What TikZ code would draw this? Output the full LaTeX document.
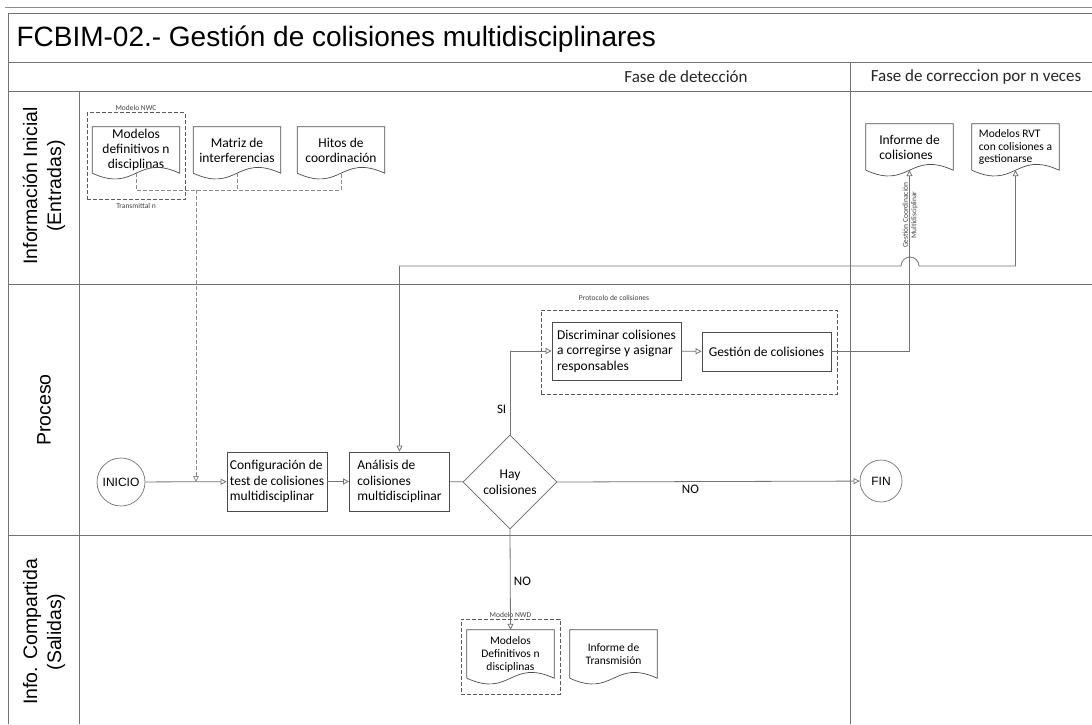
\documentclass[tikz,border=0pt]{standalone}
\usepackage{fontspec}
\setmainfont{Carlito}
\newfontfamily\arialf{Liberation Sans}
\usetikzlibrary{shapes.geometric,arrows.meta,calc}

\tikzset{
  lane/.style={draw=black!55, line width=0.8pt},
  procbox/.style={draw=black!70, line width=0.7pt, minimum width=100pt, minimum height=59pt,
    align=left, inner sep=2pt, font=\fontsize{13.5}{15.5}\selectfont},
  decision/.style={diamond, draw=black!60, line width=0.7pt, minimum width=94pt,
    minimum height=94pt, inner sep=0pt, align=center, font=\fontsize{13.5}{15.5}\selectfont},
  evento/.style={circle, draw=black!55, line width=0.7pt, inner sep=0pt,
    font=\arialf\fontsize{12}{14}\selectfont},
  docnode/.style={minimum width=87pt, minimum height=46pt, inner sep=1pt, align=center,
    font=\fontsize{13.5}{15}\selectfont},
  docline/.style={draw=black!70, line width=0.7pt},
  grupo/.style={draw=black!65, line width=0.7pt, dash pattern=on 4pt off 2pt,
    minimum width=10pt, minimum height=10pt},
  tiny/.style={font=\fontsize{7.5}{8.5}\selectfont, text=black!75, inner sep=1pt},
  conector/.style={draw=black!55, line width=0.8pt},
  flow/.style={conector, -{Triangle[open,length=6pt,width=6pt]}},
  feed/.style={draw=black!45, line width=0.8pt, dash pattern=on 4pt off 2pt},
  lanelabel/.style={rotate=90, align=center, font=\arialf\fontsize{19.5}{24}\selectfont},
  fase/.style={font=\fontsize{17}{19}\selectfont, text=black!85},
}

% documento con borde ondulado abajo
\newcommand\docshape[1]{%
  \draw[docline] (#1.south west) -- (#1.north west) -- (#1.north east) -- (#1.south east)
    .. controls ($(#1.south)+(0,-20)$) and ($(#1.south)+(0,20)$) .. (#1.south west);}

\begin{document}
\begin{tikzpicture}[x=1pt, y=-1pt]
  \useasboundingbox (0,0) rectangle (1092,724);

  % marco y carriles
  \draw[draw=black!45, line width=1pt] (5,7) -- (1092,7);
  \draw[lane] (1092,13) -- (8,13) -- (8,724);
  \draw[lane] (8,62) -- (1092,62);
  \draw[lane] (8,91) -- (1092,91);
  \draw[lane] (8,284) -- (1092,284);
  \draw[lane] (8,535) -- (1092,535);
  \draw[lane] (79,91) -- (79,724);
  \draw[lane] (850,62) -- (850,724);

  \node[anchor=west, font=\arialf\fontsize{28}{31}\selectfont] (titulo) at (13,39)
    {FCBIM-02.- Gestión de colisiones multidisciplinares};
  \node[fase] (deteccion) at (686,77) {Fase de detección};
  \node[fase] (correccion) at (976,77) {Fase de correccion por n veces};

  \node[lanelabel] (entradas) at (44,186) {Información Inicial\\(Entradas)};
  \node[lanelabel] (proceso) at (44,410) {Proceso};
  \node[lanelabel] (salidas) at (44,632) {Info. Compartida\\(Salidas)};

  % entradas
  \node[docnode] (modelos) at (136,150) {Modelos\\definitivos n\\disciplinas};
  \node[docnode] (matriz) at (237,150) {Matriz de\\interferencias};
  \node[docnode] (hitos) at (341,150) {Hitos de\\coordinación};
  \node[grupo, minimum width=98pt, minimum height=87pt] (grupoNWC) at (136,156) {};
  \node[tiny, anchor=south] (nwc) at (grupoNWC.north) {Modelo NWC};
  \node[tiny, anchor=north] (transmittal) at ([yshift=-2pt]grupoNWC.south) {Transmittal n};

  \node[docnode, align=left] (informe) at (909.5,147) {Informe de\\colisiones};
  \node[docnode, align=left, font=\fontsize{11.5}{12.5}\selectfont] (rvt) at (1015.5,147)
    {Modelos RVT\\con colisiones a\\gestionarse};

  % proceso
  \node[evento, minimum size=48pt] (inicio) at (121,482) {INICIO};
  \node[procbox] (config) at (277,481.5) {Configuración de\\test de colisiones\\multidisciplinar};
  \node[procbox] (analisis) at (399.5,481.5) {Análisis de\\colisiones\\multidisciplinar};
  \node[decision] (hay) at (510,482) {Hay\\colisiones};
  \node[evento, minimum size=42pt] (fin) at (881,481) {FIN};

  \node[procbox, minimum width=129pt, minimum height=58pt] (discriminar) at (616.5,351)
    {Discriminar colisiones\\a corregirse y asignar\\responsables};
  \node[procbox, minimum width=129pt, minimum height=39pt, align=center] (gestion) at (766.5,351.5)
    {Gestión de colisiones};
  \node[grupo, minimum width=296pt, minimum height=84pt] (protocolo) at (689,352) {};
  \node[tiny] (protlabel) at (614,298) {Protocolo de colisiones};

  % salidas
  \node[docnode, font=\fontsize{11.5}{13}\selectfont, minimum height=48pt] (definitivos) at (510.5,654)
    {Modelos\\Definitivos n\\disciplinas};
  \node[docnode, font=\fontsize{11.5}{13}\selectfont, minimum height=48pt] (transmision) at (613.5,654)
    {Informe de\\Transmisión};
  \node[grupo, minimum width=99pt, minimum height=75pt] (grupoNWD) at (510.5,656.5) {};
  \node[tiny, anchor=south] (nwd) at (grupoNWD.north) {Modelo NWD};

  \foreach \d in {modelos,matriz,hitos,informe,rvt,definitivos,transmision}
    \docshape{\d};

  % flujo de entradas
  \coordinate (busL) at (136,190);
  \coordinate (busR) at (341,190);
  \coordinate (bajada) at (196,190);
  \draw[feed] (modelos.south) -- (busL) -- (busR) -- (hitos.south);
  \draw[feed] (matriz.south) -- (matriz.south |- busL);
  \draw[feed, -{Triangle[open,length=6pt,width=6pt]}] (bajada) -- (bajada |- inicio);

  % conectores
  \draw[flow] (inicio) -- (config);
  \draw[flow] (config) -- (analisis);
  \draw[conector] (analisis) -- (hay);
  \draw[flow] (hay.north) |- (discriminar.west)
    node[pos=0.15, left, font=\fontsize{13}{15}\selectfont] {SI};
  \draw[flow] (discriminar) -- (gestion);
  \draw[flow] (gestion.east) -| (informe.south);
  \node[tiny, rotate=90, align=center, font=\fontsize{7.5}{8.5}\selectfont] (gcm) at (910,215)
    {Gestión Coordinación\\Multidisciplinar};
  \coordinate (salto) at (919,266);
  \draw[conector, {Triangle[open,length=6pt,width=6pt]}-{Triangle[open,length=6pt,width=6pt]}]
    (rvt.south) -- (rvt.south |- salto) -- (salto) arc[start angle=0, end angle=-180, radius=9]
    -- (analisis.north |- salto) -- (analisis.north);
  \draw[flow] (hay.east) -- (fin)
    node[pos=0.44, below, font=\fontsize{13}{15}\selectfont] {NO};
  \draw[flow] (hay.south) -- (definitivos.north)
    node[pos=0.52, right, font=\fontsize{13}{15}\selectfont] {NO};
\end{tikzpicture}
\end{document}
